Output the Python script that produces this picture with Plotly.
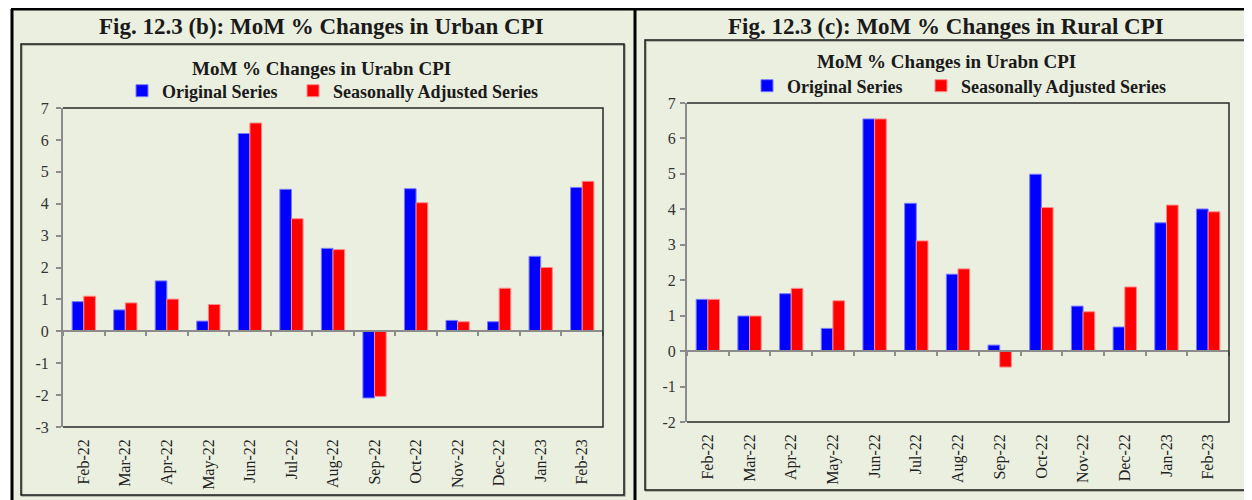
import plotly.graph_objects as go

# ---------------- data ----------------
months = ["Feb-22", "Mar-22", "Apr-22", "May-22", "Jun-22", "Jul-22", "Aug-22",
          "Sep-22", "Oct-22", "Nov-22", "Dec-22", "Jan-23", "Feb-23"]

urban_original = [0.93, 0.67, 1.58, 0.32, 6.20, 4.45, 2.60, -2.09, 4.47, 0.34, 0.30, 2.35, 4.51]
urban_sa       = [1.10, 0.89, 1.01, 0.84, 6.53, 3.53, 2.56, -2.04, 4.03, 0.30, 1.35, 2.00, 4.70]

rural_original = [1.46, 0.99, 1.62, 0.64, 6.55, 4.17, 2.17, 0.17, 4.99, 1.27, 0.68, 3.62, 4.01]
rural_sa       = [1.46, 0.99, 1.77, 1.42, 6.55, 3.11, 2.32, -0.45, 4.05, 1.11, 1.81, 4.12, 3.93]

urban_yrange = [-3, 7]
rural_yrange = [-2, 7]
yticks_urban = list(range(-3, 8))
yticks_rural = list(range(-2, 8))

panel_titles = ["Fig. 12.3 (b): MoM % Changes in Urban CPI",
                "Fig. 12.3 (c): MoM % Changes in Rural CPI"]
chart_titles = ["MoM % Changes in Urabn CPI", "MoM % Changes in Urabn CPI"]
series_names = ["Original Series", "Seasonally Adjusted Series"]

# ---------------- style ----------------
# the page body adds an 8px margin, so the figure is offset by (8, 8)
OFF = 8
W, H = 1252 - OFF, 500 - OFF
BLUE, RED = "#0000FF", "#FF0000"
BEIGE = "#EBEFDF"
FONT = "Liberation Serif"
TXT = "#1a1a1a"


def px_x(x):
    return (x - OFF) / W


def px_y(y):
    return 1 - (y - OFF) / H


# plot-area pixel boxes (page coordinates)
L_box = dict(x0=63, x1=603, y0=108, y1=427)
R_box = dict(x0=687, x1=1229, y0=103, y1=422)

L_xd = [px_x(L_box["x0"]), px_x(L_box["x1"])]
L_yd = [px_y(L_box["y1"]), px_y(L_box["y0"])]
R_xd = [px_x(R_box["x0"]), px_x(R_box["x1"])]
R_yd = [px_y(R_box["y1"]), px_y(R_box["y0"])]


def zero_pos(dom, rng):
    return dom[0] + (0 - rng[0]) / (rng[1] - rng[0]) * (dom[1] - dom[0])


n = len(months)
cat_range = [-0.5, n - 0.5]

fig = go.Figure()

bar_line_blue = dict(color="#7a7aff", width=1)
bar_line_red = dict(color="#ff8a8a", width=1)

fig.add_trace(go.Bar(x=months, y=urban_original, name=series_names[0],
                     marker=dict(color=BLUE, line=bar_line_blue),
                     xaxis="x", yaxis="y", legend="legend"))
fig.add_trace(go.Bar(x=months, y=urban_sa, name=series_names[1],
                     marker=dict(color=RED, line=bar_line_red),
                     xaxis="x", yaxis="y", legend="legend3"))
fig.add_trace(go.Bar(x=months, y=rural_original, name=series_names[0],
                     marker=dict(color=BLUE, line=bar_line_blue),
                     xaxis="x2", yaxis="y2", legend="legend2"))
fig.add_trace(go.Bar(x=months, y=rural_sa, name=series_names[1],
                     marker=dict(color=RED, line=bar_line_red),
                     xaxis="x2", yaxis="y2", legend="legend4"))
# empty carriers for the month-label axes (no visible marks)
fig.add_trace(go.Scatter(x=months, y=[None] * n, xaxis="x3", yaxis="y",
                         mode="markers", showlegend=False, hoverinfo="skip"))
fig.add_trace(go.Scatter(x=months, y=[None] * n, xaxis="x4", yaxis="y2",
                         mode="markers", showlegend=False, hoverinfo="skip"))

tickfont = dict(family=FONT, size=16, color="#333333")
xlabfont = dict(family=FONT, size=16, color="#222222")

common_zero_axis = dict(
    type="category", range=cat_range, showticklabels=False,
    ticks="outside", tickson="boundaries", ticklen=4, tickwidth=1.5,
    tickcolor="#8c8c8c", showline=True, linecolor="#8c8c8c", linewidth=2,
    showgrid=False, zeroline=False, fixedrange=True, automargin=False,
)
common_label_axis = dict(
    type="category", range=cat_range, categoryorder="array", categoryarray=months,
    tickmode="array", tickvals=months, ticktext=months, tickangle=-90,
    ticks="", showline=False, showgrid=False, zeroline=False,
    tickfont=xlabfont, side="bottom", fixedrange=True, automargin=False,
)
common_y = dict(
    tickmode="array", ticks="outside", ticklen=5, tickwidth=1.5, tickcolor="#8c8c8c",
    showline=True, linecolor="#8c8c8c", linewidth=2, showgrid=False,
    zeroline=False, tickfont=tickfont, fixedrange=True, automargin=False,
)

legend_common = dict(orientation="h", xanchor="left", yanchor="middle",
                     bgcolor="rgba(0,0,0,0)", itemwidth=30,
                     font=dict(family=FONT, size=18, color=TXT, weight="bold"))

fig.update_layout(
    width=W, height=H,
    margin=dict(l=0, r=0, t=0, b=0, pad=0, autoexpand=False),
    paper_bgcolor="white", plot_bgcolor="white",
    barmode="group", bargap=0.44, bargroupgap=0.0,
    font=dict(family=FONT, color=TXT),
    xaxis=dict(domain=L_xd, anchor="free", position=zero_pos(L_yd, urban_yrange),
               **common_zero_axis),
    yaxis=dict(domain=L_yd, range=urban_yrange, anchor="x", tickvals=yticks_urban,
               ticktext=[str(v) for v in yticks_urban], ticklabelstandoff=4, **common_y),
    xaxis2=dict(domain=R_xd, anchor="free", position=zero_pos(R_yd, rural_yrange),
                **common_zero_axis),
    yaxis2=dict(domain=R_yd, range=rural_yrange, anchor="x2", tickvals=yticks_rural,
                ticktext=[str(v) for v in yticks_rural], ticklabelstandoff=1, **common_y),
    xaxis3=dict(overlaying="x", anchor="y", ticklabelstandoff=8, **common_label_axis),
    xaxis4=dict(overlaying="x2", anchor="y2", ticklabelstandoff=8, **common_label_axis),
    legend=dict(x=px_x(122), y=px_y(91), **legend_common),
    legend3=dict(x=px_x(293), y=px_y(91), **legend_common),
    legend2=dict(x=px_x(747), y=px_y(86), **legend_common),
    legend4=dict(x=px_x(921), y=px_y(86), **legend_common),
    showlegend=True,
)

shapes = []
# panel backgrounds
shapes.append(dict(type="rect", xref="paper", yref="paper", layer="below",
                   x0=px_x(12), x1=px_x(635), y0=px_y(500), y1=px_y(9),
                   fillcolor=BEIGE, line=dict(width=0)))
shapes.append(dict(type="rect", xref="paper", yref="paper", layer="below",
                   x0=px_x(635), x1=px_x(1252), y0=px_y(500), y1=px_y(9),
                   fillcolor=BEIGE, line=dict(width=0)))
# inner chart boxes
for (x0, x1, y0, y1) in [(21, 624, 44, 495), (645, 1248, 40, 490)]:
    shapes.append(dict(type="rect", xref="paper", yref="paper", layer="below",
                       x0=px_x(x0 + 1), x1=px_x(x1 + 1), y0=px_y(y1 + 1), y1=px_y(y0 + 1),
                       fillcolor="rgba(0,0,0,0)", line=dict(color="#a5a596", width=1.5)))
    shapes.append(dict(type="rect", xref="paper", yref="paper", layer="below",
                       x0=px_x(x0), x1=px_x(x1), y0=px_y(y1), y1=px_y(y0),
                       fillcolor="rgba(0,0,0,0)", line=dict(color="#1a1a1a", width=1.5)))
# black frame lines
shapes.append(dict(type="line", xref="paper", yref="paper", layer="above",
                   x0=px_x(11), x1=1, y0=px_y(9), y1=px_y(9),
                   line=dict(color="black", width=3)))
shapes.append(dict(type="line", xref="paper", yref="paper", layer="above",
                   x0=px_x(12), x1=px_x(12), y0=px_y(9), y1=0,
                   line=dict(color="black", width=3)))
shapes.append(dict(type="line", xref="paper", yref="paper", layer="above",
                   x0=px_x(635), x1=px_x(635), y0=px_y(9), y1=0,
                   line=dict(color="black", width=3)))
# plot-area borders (top, right, bottom dark)
for xd, yd in [(L_xd, L_yd), (R_xd, R_yd)]:
    shapes.append(dict(type="path", xref="paper", yref="paper", layer="above",
                       path=f"M{xd[0]},{yd[1]} L{xd[1]},{yd[1]} L{xd[1]},{yd[0]} L{xd[0]},{yd[0]}",
                       line=dict(color="#2a2a2a", width=1.5)))
fig.update_layout(shapes=shapes)

annotations = []
for cx, ty, title in [(322, 27, panel_titles[0]), (946, 27, panel_titles[1])]:
    annotations.append(dict(text=f"<b>{title}</b>", x=px_x(cx), y=px_y(ty),
                            xref="paper", yref="paper", showarrow=False,
                            xanchor="center", yanchor="middle",
                            font=dict(family=FONT, size=23, color=TXT)))
for cx, ty, title in [(322, 68, chart_titles[0]), (946, 62, chart_titles[1])]:
    annotations.append(dict(text=f"<b>{title}</b>", x=px_x(cx), y=px_y(ty),
                            xref="paper", yref="paper", showarrow=False,
                            xanchor="center", yanchor="middle",
                            font=dict(family=FONT, size=19, color=TXT)))
fig.update_layout(annotations=annotations)

fig.write_html("out.html")
